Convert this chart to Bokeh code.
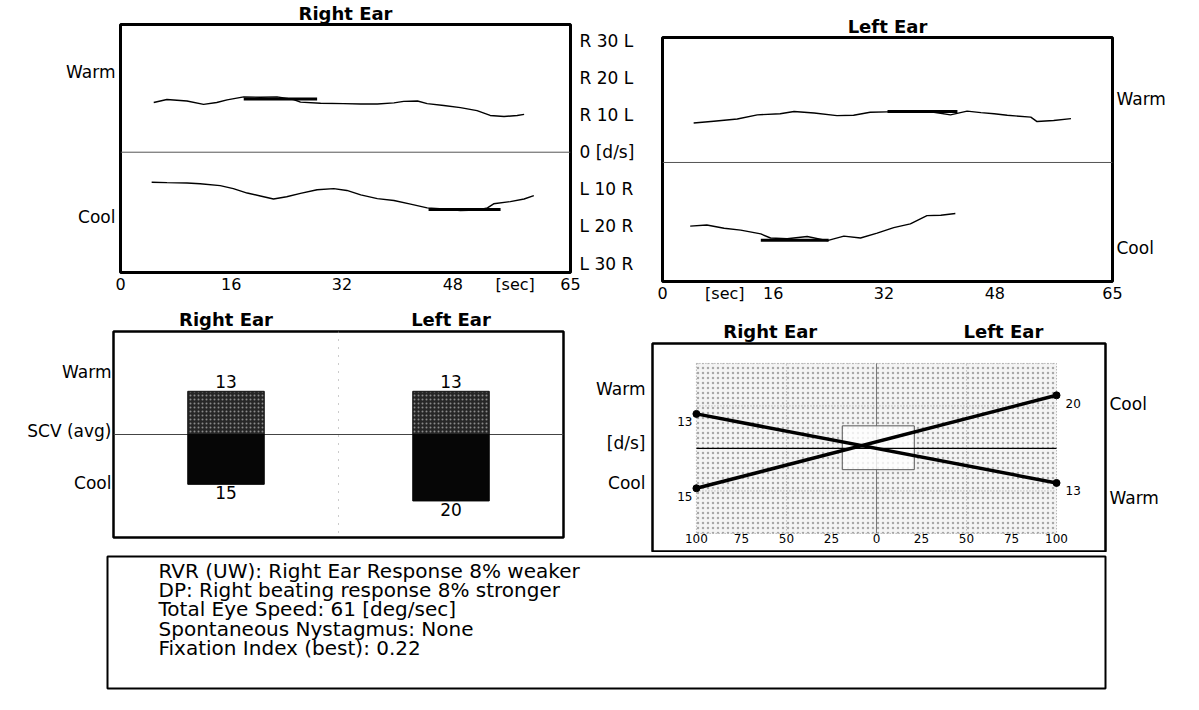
from bokeh.plotting import figure
from bokeh.layouts import column, row
from bokeh.models import Range1d, FixedTicker, Span, LinearAxis
from bokeh.embed import file_html
from bokeh.resources import INLINE
from bokeh.core.properties import value

# ---------------- data ----------------
time_ticks = [0, 16, 32, 48, 65]
right_sec_tick = 57
left_sec_tick = 9
speed_ticks = [30, 20, 10, 0, -10, -20, -30]
speed_labels = ["R 30 L", "R 20 L", "R 10 L", "0 [d/s]", "L 10 R", "L 20 R", "L 30 R"]

# Right ear slow-phase velocity traces [sec], [deg/sec]
right_warm_t = [4.8, 6.7, 9.6, 12.0, 13.9, 15.4, 17.8, 20.2, 22.6, 25.0, 26.0, 28.9, 32.2,
                34.7, 37.1, 39.5, 40.9, 42.9, 44.3, 46.7, 49.1, 51.5, 53.4, 55.4, 57.3, 58.3]
right_warm_v = [13.4, 14.2, 13.8, 12.9, 13.4, 14.1, 14.9, 14.8, 14.9, 14.2, 13.5, 13.2, 13.1,
                13.0, 13.0, 13.3, 13.7, 13.8, 13.1, 12.6, 12.0, 11.2, 9.9, 9.6, 9.9, 10.2]
right_cool_t = [4.5, 6.7, 9.6, 11.5, 14.4, 16.3, 18.3, 20.2, 22.1, 24.0, 26.0, 28.4, 30.8, 32.7,
                34.7, 37.1, 39.5, 41.9, 44.3, 46.7, 49.1, 51.5, 53.0, 53.9, 56.3, 58.3, 59.7]
right_cool_v = [-8.1, -8.2, -8.3, -8.5, -9.0, -9.8, -11.0, -11.8, -12.6, -12.0, -11.1, -10.1, -9.8,
                -10.3, -11.5, -12.5, -13.0, -14.0, -15.0, -15.3, -15.7, -15.6, -15.0, -13.9, -13.3,
                -12.6, -11.7]
# Left ear slow-phase velocity traces
left_warm_t = [4.5, 7.4, 10.8, 13.7, 17.0, 19.0, 21.9, 25.2, 27.6, 30.0, 32.5, 35.3, 39.2, 41.6,
               44.0, 46.0, 47.9, 49.8, 53.2, 54.1, 56.5, 59.0]
left_warm_v = [10.6, 11.1, 11.7, 12.8, 13.1, 13.7, 13.3, 12.6, 12.7, 13.5, 13.6, 13.6, 13.5, 12.8,
               13.8, 13.4, 13.1, 12.7, 12.2, 11.0, 11.3, 11.8]
left_cool_t = [4.0, 6.4, 8.9, 11.3, 14.2, 15.6, 18.0, 20.9, 23.8, 26.2, 28.6, 31.0, 33.4, 35.8,
               38.2, 40.2, 42.3]
left_cool_v = [-17.1, -16.8, -17.7, -18.2, -19.2, -20.3, -20.5, -19.9, -21.0, -19.8, -20.3, -19.0,
               -17.5, -16.5, -14.3, -14.2, -13.7]
# peak (averaging) windows: start, end, value
right_warm_peak = [17.8, 28.4, 14.3]
right_cool_peak = [44.5, 54.9, -15.4]
left_warm_peak = [32.5, 42.6, 13.7]
left_cool_peak = [14.2, 24.0, -20.9]

ears = ["Right Ear", "Left Ear"]
scv_warm = [13, 13]
scv_cool = [15, 20]

dp_ticks = [-100, -75, -50, -25, 0, 25, 50, 75, 100]
dp_labels = ["100", "75", "50", "25", "0", "25", "50", "75", "100"]
norm_box = [-19, 21, -8, 8.5]

summary_lines = [
    "RVR (UW): Right Ear Response 8% weaker",
    "DP: Right beating response 8% stronger",
    "Total Eye Speed: 61 [deg/sec]",
    "Spontaneous Nystagmus: None",
    "Fixation Index (best): 0.22",
]

# ---------------- styling helpers ----------------
FONT = "DejaVu Sans"


def make_fig(w, h, l, r, t, b, xr, yr, title=None, **kw):
    p = figure(width=w, height=h, x_range=Range1d(*xr), y_range=Range1d(*yr), title=title,
               output_backend="svg", toolbar_location=None,
               min_border_left=l, min_border_right=r, min_border_top=t, min_border_bottom=b, **kw)
    p.grid.visible = False
    p.outline_line_color = "black"
    p.outline_line_width = 3
    p.background_fill_color = "white"
    p.border_fill_color = "white"
    if title is not None:
        p.title.align = "center"
        p.title.text_font = FONT
        p.title.text_font_size = "18px"
        p.title.text_font_style = "bold"
        p.title.text_color = "black"
        p.title.standoff = 1
        p.title.text_line_height = 1.0
    return p


def style_axis(ax, ticks, labels, size=17, bold=False, standoff=3):
    ax.ticker = FixedTicker(ticks=list(ticks))
    ax.major_label_overrides = {tk: lb for tk, lb in zip(ticks, labels)}
    ax.axis_line_color = None
    ax.major_tick_line_color = None
    ax.minor_tick_line_color = None
    ax.major_tick_out = 0
    ax.major_tick_in = 0
    ax.minor_tick_out = 0
    ax.minor_tick_in = 0
    ax.major_label_text_font = FONT
    ax.major_label_text_font_size = f"{size}px"
    ax.major_label_text_color = "black"
    ax.major_label_standoff = standoff
    if bold:
        ax.major_label_text_font_style = "bold"


def trace_panel(p, wt, wv, ct, cv, wpk, cpk):
    p.add_layout(Span(location=0, dimension="width", line_color="#555555", line_width=1,
                      level="underlay"))
    p.line(wt, wv, line_color="black", line_width=1.4)
    p.line(ct, cv, line_color="black", line_width=1.4)
    p.segment(x0=[wpk[0], cpk[0]], y0=[wpk[2], cpk[2]], x1=[wpk[1], cpk[1]], y1=[wpk[2], cpk[2]],
              line_color="black", line_width=3)


# ---------------- top-left: right ear traces ----------------
A = make_fig(655, 305, 120, 85, 18, 33, (0, 65), (-32.4, 34.4), title=ears[0])
trace_panel(A, right_warm_t, right_warm_v, right_cool_t, right_cool_v, right_warm_peak, right_cool_peak)
style_axis(A.xaxis[0], time_ticks + [right_sec_tick], [str(v) for v in time_ticks] + ["[sec]"], 16, standoff=2)
style_axis(A.yaxis[0], [21.5, -17.4], ["Warm", "Cool"], 17, standoff=5)
ra = LinearAxis()
A.add_layout(ra, "right")
style_axis(ra, speed_ticks, speed_labels, 17, standoff=9)

# ---------------- top-right: left ear traces ----------------
B = make_fig(544, 305, 7, 87, 37, 19, (0, 65), (-32, 33.6), title=ears[1], y_axis_location="right")
trace_panel(B, left_warm_t, left_warm_v, left_cool_t, left_cool_v, left_warm_peak, left_cool_peak)
style_axis(B.xaxis[0], time_ticks + [left_sec_tick], [str(v) for v in time_ticks] + ["[sec]"], 16, standoff=2)
style_axis(B.yaxis[0], [17.0, -23.0], ["Warm", "Cool"], 17, standoff=4)

# ---------------- bottom-left: SCV bars ----------------
bar_x = [0.5, 1.5]
C = make_fig(580, 247, 113, 17, 22, 15, (0, 2), (-31, 31), x_axis_location="above")
C.outline_line_width = 2.5
C.add_layout(Span(location=0, dimension="width", line_color="#444444", line_width=1, level="underlay"))
C.add_layout(Span(location=1, dimension="height", line_color="#999999", line_width=1,
                  line_dash="1 7", level="underlay"))
C.vbar(x=bar_x, bottom=0, top=scv_warm, width=0.34, fill_color="#262626", line_color="#111111",
       hatch_pattern=".", hatch_color="#8a8a8a", hatch_scale=4, hatch_weight=1)
C.vbar(x=bar_x, top=0, bottom=[-v for v in scv_cool], width=0.34, fill_color="#060606",
       line_color="#060606")
C.text(x=bar_x, y=scv_warm, text=[str(v) for v in scv_warm], y_offset=-3,
       text_align="center", text_baseline="bottom", text_font=value(FONT), text_font_size="17px")
C.text(x=bar_x, y=[-v for v in scv_cool], text=[str(v) for v in scv_cool], y_offset=2,
       text_align="center", text_baseline="top", text_font=value(FONT), text_font_size="17px")
style_axis(C.xaxis[0], bar_x, ears, 18, bold=True, standoff=2)
style_axis(C.yaxis[0], [18.7, 1.0, -14.5], ["Warm", "SCV (avg)", "Cool"], 17, standoff=2)

# ---------------- bottom-right: butterfly ----------------
D = make_fig(619, 247, 72, 94, 38, 1, (-124.4, 127.2), (-38.8, 39.5), x_axis_location="below")
D.outline_line_width = 2.5
xl, xr_ = min(dp_ticks), max(dp_ticks)
D.quad(left=[xl], right=[xr_], bottom=[-32], top=[32], fill_color="#f4f4f4",
       line_color="#9a9a9a", line_width=1, line_dash="1 2",
       hatch_pattern=".", hatch_color="#a8a8a8", hatch_scale=5, hatch_weight=1)
# dotted grid
D.segment(x0=[-50, 50, xl, xl], y0=[-32, -32, 16, -16], x1=[-50, 50, xr_, xr_], y1=[32, 32, 16, -16],
          line_color="#aaaaaa", line_width=1, line_dash="1 2")
D.segment(x0=[0], y0=[-32], x1=[0], y1=[32], line_color="#777777", line_width=1)
D.quad(left=[norm_box[0]], right=[norm_box[1]], bottom=[norm_box[2]], top=[norm_box[3]],
       fill_color="white", fill_alpha=0.8, line_color="#555555", line_width=1)
D.segment(x0=[xl], y0=[0], x1=[xr_], y1=[0], line_color="black", line_width=1.3)
warm_y = [scv_warm[0], -scv_warm[1]]
cool_y = [-scv_cool[0], scv_cool[1]]
D.line([xl, xr_], warm_y, line_color="black", line_width=3.5)
D.line([xl, xr_], cool_y, line_color="black", line_width=3.5)
D.scatter([xl, xr_, xl, xr_], warm_y + cool_y, size=7, color="black")
D.text(x=[xl, xl], y=[warm_y[0], cool_y[0]], text=[str(scv_warm[0]), str(scv_cool[0])],
       x_offset=-4, y_offset=8, text_align="right", text_baseline="middle",
       text_font=value(FONT), text_font_size="12px")
D.text(x=[xr_, xr_], y=[cool_y[1], warm_y[1]], text=[str(scv_cool[1]), str(scv_warm[1])],
       x_offset=9, y_offset=8, text_align="left", text_baseline="middle",
       text_font=value(FONT), text_font_size="12px")
D.xaxis[0].fixed_location = -32
style_axis(D.xaxis[0], dp_ticks, dp_labels, 12, standoff=1)
ta = LinearAxis()
D.add_layout(ta, "above")
style_axis(ta, [-59, 70.5], ears, 18, bold=True, standoff=2)
style_axis(D.yaxis[0], [22.2, 1.9, -13.2], ["Warm", "[d/s]", "Cool"], 17, standoff=7)
rb = LinearAxis()
D.add_layout(rb, "right")
style_axis(rb, [16.9, -18.8], ["Cool", "Warm"], 17, standoff=4)

# ---------------- summary text box ----------------
E = make_fig(1199, 158, 107, 94, 4, 22, (0, 998), (132, 0))
E.outline_line_width = 2
E.axis.visible = False
E.text(x=[51] * len(summary_lines), y=[14 + 19.4 * i for i in range(len(summary_lines))],
       text=summary_lines, text_align="left", text_baseline="middle",
       text_font=value(FONT), text_font_size="20px", text_color="black")

# wrap each figure so that row alignment does not force equal frame borders
layout = column(row(column(A), column(B)), row(column(C), column(D)), column(E))
open("out.html", "w").write(file_html(layout, INLINE))
